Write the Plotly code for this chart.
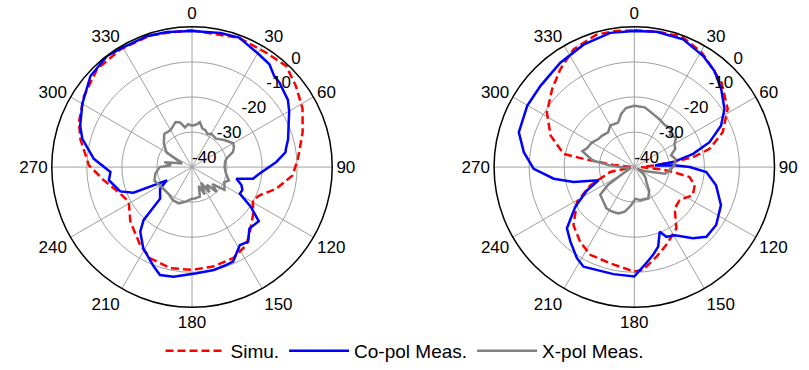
import plotly.graph_objects as go

# ---------------- left pattern ----------------
sim_l_theta = [0, 20, 33, 43, 52, 62, 72.5, 85.5, 94.7, 104.4, 112.6, 118.5, 128, 138, 145, 155.7,
               168, 180, 192, 204.6, 213.6, 228.4, 241.2, 249.7, 261.4, 271, 284, 291.6, 303.4,
               316, 328.7, 342.4, 352]
sim_l_db = [-1.0, -0.8, -1.1, -0.6, -2.4, -4.3, -6.9, -9.7, -11.2, -15.2, -19.1, -20.2, -17.9, -15.3,
            -12.9, -11.5, -11.0, -10.7, -10.5, -11.4, -13.3, -16.5, -19.4, -18.2, -14.6, -10.6, -7.2,
            -5.3, -3.1, -1.1, -0.7, -0.6, -1.1]

co_l_theta = [0, 12, 20, 30, 37, 42, 46, 55, 60, 74, 79, 81, 86.5, 95.7, 100.8, 104.6, 110, 114.5,
              119, 124, 129, 137, 143, 148.5, 156.5, 160.6, 168, 177.5, 189.6, 196.5, 201, 211,
              218.7, 222.4, 225.3, 235.9, 242.2, 246.4, 251.3, 261, 266.5, 274.8, 284.4, 290.3,
              299.9, 311.9, 322.6, 329.6, 341, 349.4]
co_l_db = [-1.2, -0.9, -0.7, -2.5, -3.3, -5.0, -5.3, -6.6, -8.0, -11.5, -12.7, -13.0, -15.9, -20.7,
           -22.3, -26.9, -25.0, -24.2, -24.4, -19.8, -15.5, -16.0, -13.4, -13.9, -10.6, -10.4, -10.0,
           -9.7, -8.3, -7.9, -9.6, -13.0, -16.4, -19.5, -27.2, -29.0, -31.9, -21.8, -18.4, -16.0,
           -16.7, -11.9, -7.7, -6.0, -3.9, -1.1, -0.1, -0.6, -0.5, -0.8]

x_l_theta = [0, 6, 10, 15, 20, 25, 30, 40, 50, 60, 65, 70, 75, 80, 90, 100, 110, 115, 125, 130, 135,
             140, 145, 150, 155, 160, 165, 175, 180, 190, 200, 210, 220, 230, 240, 250, 260, 270,
             275, 280, 285, 290, 300, 310, 320, 330, 340, 345, 350, 355]
x_l_db = [-28.2, -27.8, -27.0, -28.6, -28.8, -29.6, -29.0, -29.4, -28.0, -26.4, -26.8, -27.6, -29.6,
          -30.4, -30.7, -30.2, -28.8, -29.8, -28.7, -32.4, -30.0, -33.4, -31.3, -34.8, -31.4, -34.3,
          -31.3, -31.0, -31.0, -30.0, -29.0, -29.1, -29.8, -29.8, -29.5, -28.6, -29.4, -30.8, -34.0,
          -32.0, -35.5, -37.0, -31.6, -29.5, -27.7, -27.8, -26.3, -26.8, -28.5, -27.7]

# ---------------- right pattern ----------------
sim_r_theta = [0, 10, 20, 30, 34, 46, 58, 68.5, 76.4, 80.4, 82.7, 85, 90, 95, 97.3, 100.2, 106.8,
               115.6, 126.1, 135.7, 145.5, 157.6, 166, 175, 180, 194, 206.7, 216, 226.3, 238.7,
               247.5, 258.4, 264, 272, 276, 279, 280.6, 290.6, 302, 313.5, 322.9, 332.7, 344.2, 352]
sim_r_db = [-1.0, -0.8, -0.4, -2.0, -3.0, -5.4, -8.6, -12.9, -17.9, -23.0, -28.8, -34.6, -38.0, -32.0,
            -28.8, -24.0, -22.0, -21.5, -24.0, -23.5, -18.8, -16.0, -13.7, -10.6, -10.2, -11.7, -12.0,
            -13.7, -16.0, -20.9, -26.4, -33.0, -39.0, -39.0, -34.0, -26.0, -19.5, -14.5, -10.6, -7.7,
            -5.0, -2.2, -0.7, -0.8]

co_r_theta = [0, 9.3, 20.9, 31.7, 39.8, 48.1, 57.2, 64.5, 71.7, 77.3, 82.7, 85.4, 87.7, 90, 94,
              102.6, 113.7, 125.3, 134, 140.5, 149.2, 155.2, 158.5, 163.3, 167.9, 173.8, 180, 191,
              207, 212.2, 220.6, 227.7, 236, 243.9, 249.7, 256.2, 261.8, 269, 277.7, 286.8, 299.8,
              310.9, 324.7, 337.5, 349.8]
co_r_db = [-1.2, -0.9, -1.0, -2.7, -4.3, -6.7, -9.4, -12.6, -17.4, -22.8, -28.8, -34.1, -28.0, -24.2,
           -19.4, -16.1, -13.0, -11.4, -11.4, -13.7, -17.4, -18.1, -20.2, -16.3, -14.4, -12.0, -8.8,
           -8.9, -8.1, -9.3, -12.0, -14.0, -19.7, -25.0, -29.1, -22.2, -16.8, -11.3, -8.2, -5.6,
           -4.8, -4.6, -3.5, -2.2, -1.1]

x_r_theta = [0, 10, 20, 28, 36, 45, 48, 55, 60, 66, 72, 79, 88, 95, 102, 106, 112, 120, 127, 134,
             141, 148, 156, 163, 170, 178, 185, 192, 199, 207, 214, 222, 231, 236, 242, 255, 268,
             274, 279, 287, 292, 300, 308, 315, 323, 330, 340, 346, 352]
x_r_db = [-22.5, -22.7, -24.0, -24.6, -25.2, -24.8, -26.3, -25.4, -26.8, -27.2, -29.0, -28.0, -28.6,
          -29.8, -31.0, -34.9, -37.0, -39.0, -36.8, -35.5, -34.5, -32.0, -30.2, -30.5, -30.4, -31.0,
          -29.0, -27.0, -26.0, -25.8, -25.8, -26.8, -27.5, -31.0, -37.0, -39.0, -37.0, -33.0, -28.0,
          -24.5, -25.5, -26.0, -27.0, -27.2, -27.6, -26.3, -26.5, -24.4, -23.0]

radial_ticks = [0, -10, -20, -30, -40]
radial_labels = ["0", "-10", "-20", "-30", "-40"]
angle_ticks = list(range(0, 360, 30))
angle_labels = [str(a) for a in angle_ticks]

RED = "#ff0000"
BLUE = "#0000ff"
GRAY = "#808080"
FONT = "Liberation Sans, Arial, sans-serif"


def closed(seq):
    return list(seq) + [seq[0]]


fig = go.Figure()

panels = [
    ("polar", sim_l_theta, sim_l_db, co_l_theta, co_l_db, x_l_theta, x_l_db, True),
    ("polar2", sim_r_theta, sim_r_db, co_r_theta, co_r_db, x_r_theta, x_r_db, False),
]

for sub, st, sd, ct, cd, xt, xd, legend in panels:
    fig.add_trace(go.Scatterpolar(theta=closed(st), r=closed(sd), subplot=sub, mode="lines",
                                  name="Simu.", showlegend=legend, legendgroup="sim",
                                  line=dict(color=RED, width=2.5, dash="8px,4px")))
    fig.add_trace(go.Scatterpolar(theta=closed(ct), r=closed(cd), subplot=sub, mode="lines",
                                  name="Co-pol Meas.", showlegend=legend, legendgroup="co",
                                  line=dict(color=BLUE, width=2.5)))
    fig.add_trace(go.Scatterpolar(theta=closed(xt), r=closed(xd), subplot=sub, mode="lines",
                                  name="X-pol Meas.", showlegend=legend, legendgroup="x",
                                  line=dict(color=GRAY, width=2.5)))
    # radial scale labels written along the 45 degree direction
    fig.add_trace(go.Scatterpolar(theta=[45] * len(radial_ticks), r=radial_ticks, subplot=sub,
                                  mode="text", text=radial_labels, textposition="top right",
                                  textfont=dict(size=17, color="black", family=FONT),
                                  cliponaxis=False, showlegend=False, hoverinfo="skip"))

polar_style = dict(
    bgcolor="white",
    radialaxis=dict(range=[-40, 0], tickvals=radial_ticks[:-1], showticklabels=False,
                    ticks="", showline=False, gridcolor="#a0a0a0", gridwidth=0.8, angle=45),
    angularaxis=dict(rotation=90, direction="clockwise", tickmode="array",
                     tickvals=angle_ticks, ticktext=angle_labels,
                     ticks="", showline=True, linecolor="black", linewidth=1.5,
                     gridcolor="#a0a0a0", gridwidth=0.8,
                     tickfont=dict(size=17, color="black", family=FONT)),
)

W, H = 809, 370
fig.update_layout(
    width=W, height=H,
    margin=dict(l=0, r=0, t=0, b=0),
    paper_bgcolor="white",
    polar=dict(domain=dict(x=[51 / W, 333 / W], y=[1 - 309 / H, 1 - 27 / H]), **polar_style),
    polar2=dict(domain=dict(x=[493.3 / W, 775.3 / W], y=[1 - 309 / H, 1 - 27 / H]), **polar_style),
    legend=dict(orientation="h", x=0.5, xanchor="center", y=1 - 353 / H, yanchor="middle",
                font=dict(size=19, color="black", family=FONT), itemwidth=60,
                bgcolor="rgba(0,0,0,0)"),
    font=dict(family=FONT, color="black"),
)

fig.write_html("out.html")
